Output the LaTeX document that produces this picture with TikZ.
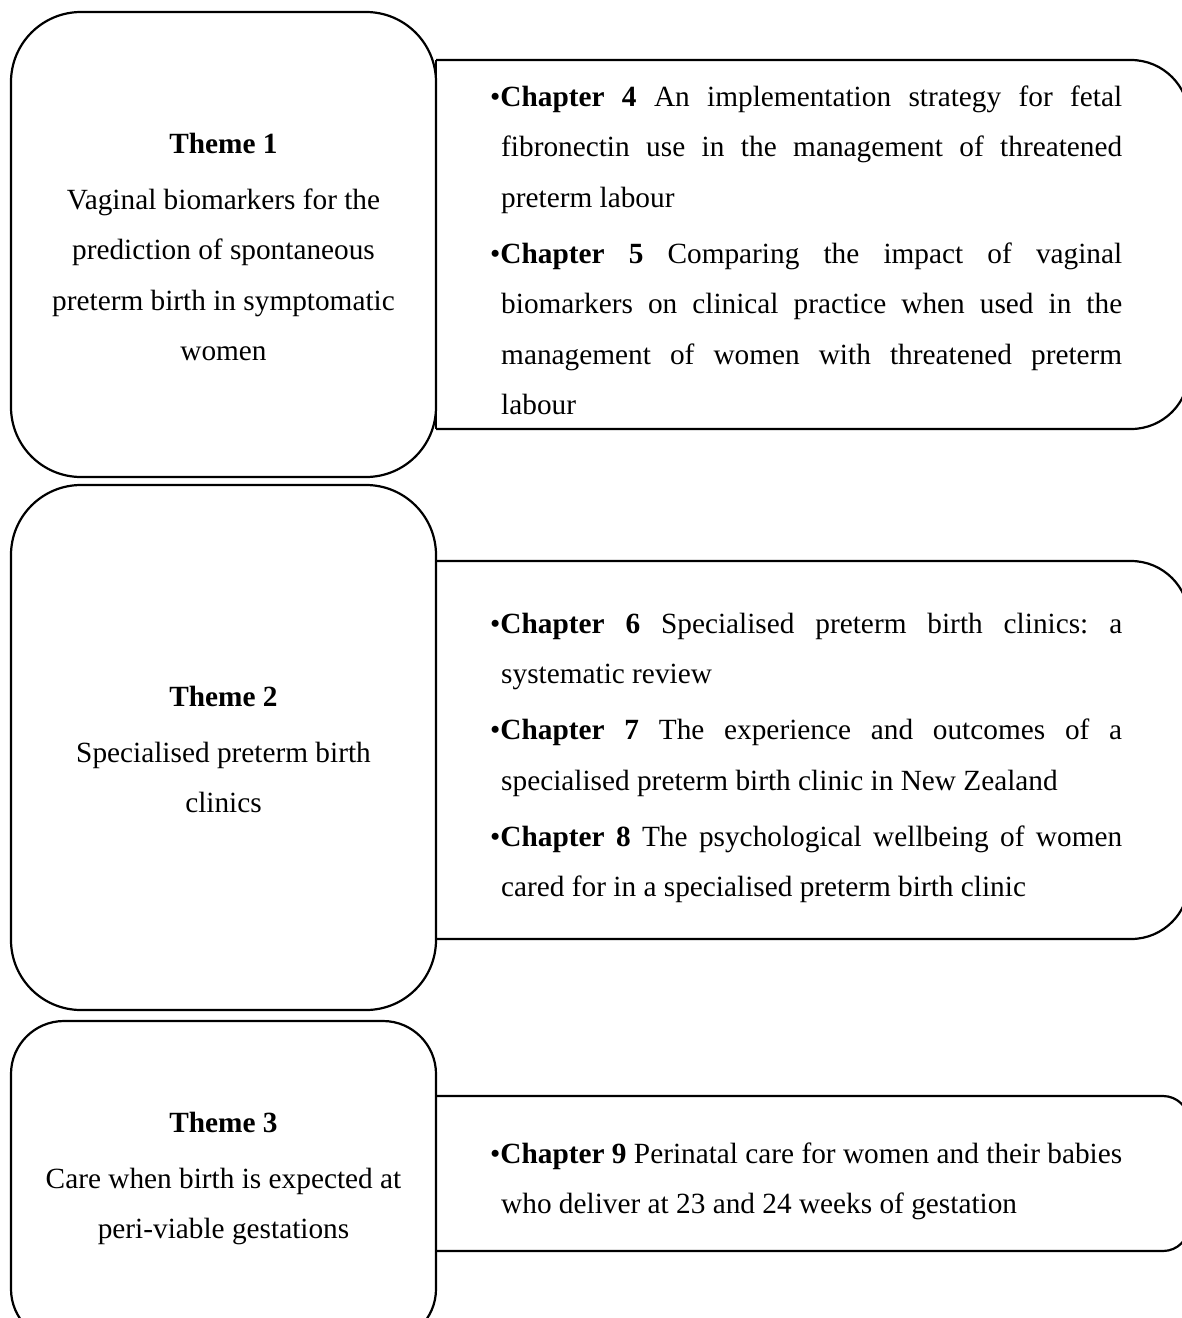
\documentclass[tikz,border=0pt]{standalone}
\usepackage{fontspec}
\setmainfont{Liberation Serif}
\frenchspacing
\newcommand{\jfirst}[1]{\makebox[632pt][s]{#1}}
\newcommand{\jcont}[1]{\makebox[621pt][s]{#1}}
\begin{document}
\begin{tikzpicture}[x=1pt,y=-1pt,
  box/.style={line width=2.2pt, draw=black, line join=round},
  txt/.style={anchor=base west, inner sep=0pt, font=\fontsize{29.3}{35}\selectfont},
  ctr/.style={anchor=base, inner sep=0pt, font=\fontsize{29.3}{35}\selectfont}]
\useasboundingbox (0,0) rectangle (1182,1318);
\clip (0,0) rectangle (1182,1318);

% chapter boxes (square on the left, rounded on the right)
\draw[box, rounded corners=58] (436,60) -- (1189,60) -- (1189,429) -- (436,429);
\draw[box] (436,60) -- (436,429);
\draw[box, rounded corners=58] (436,561) -- (1189,561) -- (1189,939) -- (436,939);
\draw[box] (436,561) -- (436,939);
\draw[box, rounded corners=26] (436,1096) -- (1189,1096) -- (1189,1251) -- (436,1251);
\draw[box] (436,1096) -- (436,1251);

% theme boxes
\draw[box, rounded corners=70] (11,12) rectangle (436,477);
\draw[box, rounded corners=70] (11,485) rectangle (436,1010);
\draw[box, rounded corners=53] (11,1021) rectangle (436,1342);

% theme texts
\node[ctr] (t1h) at (223.5,153) {\textbf{Theme 1}};
\node[ctr] (t1a) at (223.5,209) {Vaginal biomarkers for the};
\node[ctr] (t1b) at (223.5,259.5) {prediction of spontaneous};
\node[ctr] (t1c) at (223.5,310) {preterm birth in symptomatic};
\node[ctr] (t1d) at (223.5,360.5) {women};

\node[ctr] (t2h) at (223.5,706) {\textbf{Theme 2}};
\node[ctr] (t2a) at (223.5,762) {Specialised preterm birth};
\node[ctr] (t2b) at (223.5,812.5) {clinics};

\node[ctr] (t3h) at (223.5,1132) {\textbf{Theme 3}};
\node[ctr] (t3a) at (223.5,1188) {Care when birth is expected at};
\node[ctr] (t3b) at (223.5,1238.5) {peri-viable gestations};

% chapter texts, box 1
\node[txt] (c4a) at (490,106) {\jfirst{\textbullet\textbf{Chapter 4} An implementation strategy for fetal}};
\node[txt] (c4b) at (501,156.5) {\jcont{fibronectin use in the management of threatened}};
\node[txt] (c4c) at (501,207) {preterm labour};
\node[txt] (c5a) at (490,263) {\jfirst{\textbullet\textbf{Chapter 5} Comparing the impact of vaginal}};
\node[txt] (c5b) at (501,313.5) {\jcont{biomarkers on clinical practice when used in the}};
\node[txt] (c5c) at (501,364) {\jcont{management of women with threatened preterm}};
\node[txt] (c5d) at (501,414.5) {labour};

% box 2
\node[txt] (c6a) at (490,633) {\jfirst{\textbullet\textbf{Chapter 6} Specialised preterm birth clinics: a}};
\node[txt] (c6b) at (501,683.5) {systematic review};
\node[txt] (c7a) at (490,739.5) {\jfirst{\textbullet\textbf{Chapter 7} The experience and outcomes of a}};
\node[txt] (c7b) at (501,790) {specialised preterm birth clinic in New Zealand};
\node[txt] (c8a) at (490,846) {\jfirst{\textbullet\textbf{Chapter 8} The psychological wellbeing of women}};
\node[txt] (c8b) at (501,896.5) {cared for in a specialised preterm birth clinic};

% box 3
\node[txt] (c9a) at (490,1163) {\jfirst{\textbullet\textbf{Chapter 9} Perinatal care for women and their babies}};
\node[txt] (c9b) at (501,1213.5) {who deliver at 23 and 24 weeks of gestation};
\end{tikzpicture}
\end{document}
